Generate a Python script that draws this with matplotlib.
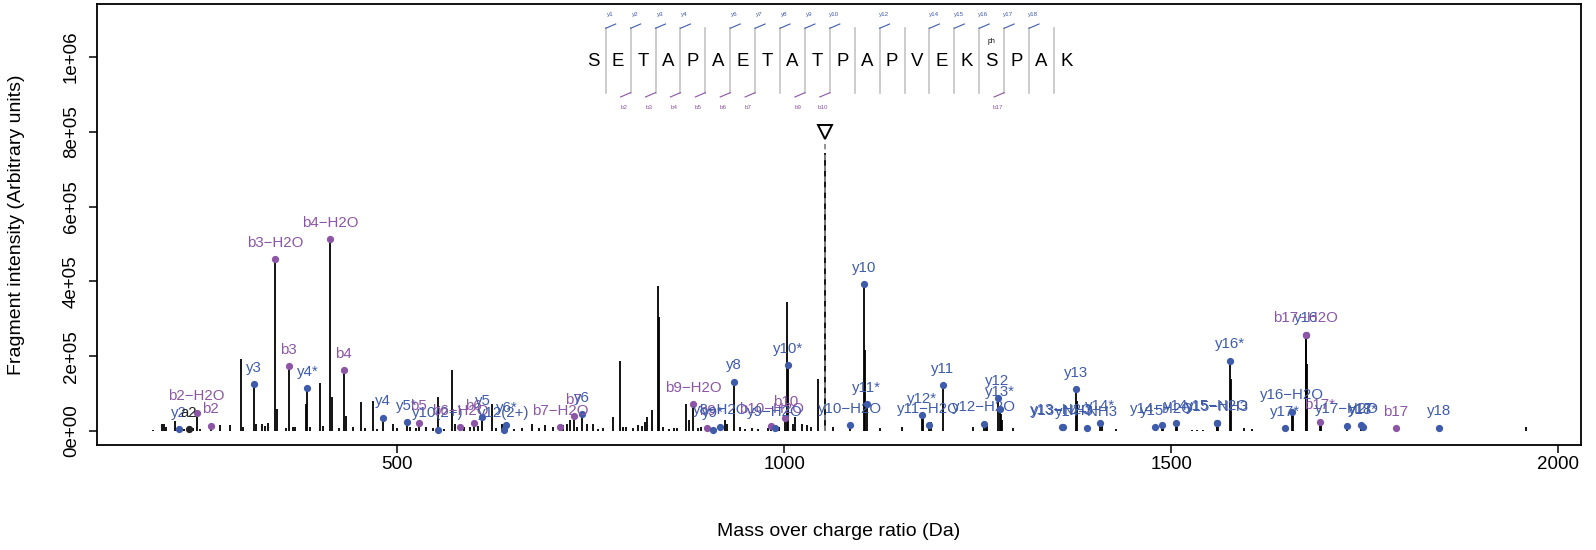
import matplotlib
matplotlib.use('Agg')
import matplotlib.pyplot as plt

plt.rcParams['font.family'] = ['Liberation Sans', 'DejaVu Sans']

# ---------------- data ----------------
# unannotated peaks (m/z, intensity)
other_mz = [185, 196, 199, 202, 213, 225, 237, 245, 271, 284, 298.3, 301, 318, 325, 329, 333,
            344.5, 357, 365, 368, 383, 388, 401, 404, 416, 425, 433.5, 443, 453, 458, 469, 474,
            495, 500, 517, 525, 538, 546, 552.5, 560, 571.5, 575, 587, 594, 605, 622, 628, 635,
            651, 661, 674, 683, 691, 702, 715, 719, 723, 733, 745, 753, 760, 766, 779, 788, 792,
            796, 805, 810.6, 815.8, 820, 823, 828.7, 837, 838.6, 843.8, 851, 858, 862, 873, 877,
            889, 893, 923.5, 926, 943, 950, 958, 966, 979, 993, 1003.9, 1011.7, 1014, 1023, 1029,
            1034.5, 1044, 1063, 1104.6, 1124, 1152, 1180, 1190, 1244, 1261.4, 1262.5, 1280, 1282,
            1296, 1361, 1378, 1392, 1410, 1429, 1481, 1490, 1508, 1527, 1533, 1541, 1561, 1577.5,
            1594, 1605, 1658, 1676, 1693, 1749, 1958]
other_int = [3e3, 18e3, 20e3, 10e3, 28e3, 6e3, 8e3, 6e3, 16e3, 16e3, 193e3, 12e3, 20e3, 20e3, 14e3, 22e3,
             60e3, 7e3, 10e3, 12e3, 72e3, 10e3, 129e3, 14e3, 90e3, 7e3, 40e3, 12e3, 78e3, 8e3, 80e3, 6e3,
             18e3, 8e3, 10e3, 8e3, 12e3, 8e3, 92e3, 6e3, 163e3, 20e3, 10e3, 12e3, 14e3, 72e3, 8e3, 20e3,
             6e3, 8e3, 20e3, 8e3, 16e3, 12e3, 15e3, 20e3, 29e3, 10e3, 20e3, 20e3, 6e3, 8e3, 38e3, 187e3, 10e3,
             11e3, 8e3, 17e3, 13e3, 25e3, 38e3, 56e3, 388e3, 305e3, 11e3, 6e3, 9e3, 9e3, 72e3, 29e3,
             8e3, 12e3, 29e3, 20e3, 11e3, 6e3, 9e3, 6e3, 9e3, 12e3, 346e3, 20e3, 38e3, 20e3, 17e3,
             11e3, 139e3, 11e3, 216e3, 9e3, 11e3, 38e3, 25e3, 12e3, 25e3, 20e3, 45e3, 30e3,
             7e3, 8e3, 80e3, 10e3, 14e3, 5e3, 8e3, 12e3, 14e3, 4e3, 4e3, 4e3, 12e3, 140e3,
             7e3, 5e3, 40e3, 180e3, 20e3, 8e3, 10e3]

# precursor
precursor_mz = 1052.5
precursor_int = 744e3
precursor_mark = 800e3

# annotated fragment ions
ion_labels = ["y2", "a2", "b2-H2O", "b2", "y3", "b3-H2O", "b3", "y4*", "b4-H2O", "b4",
              "y4", "y5*", "b5", "y10(2+)", "b6-H2O", "b6", "y5", "y12(2+)", "y6*", "b7-H2O",
              "b7", "y6", "b9-H2O", "b9", "y9*", "y8-H2O", "y8", "b10-H2O", "y9-H2O", "b10",
              "y10*", "y10-H2O", "y10", "y11*", "y12*", "y11-H2O", "y11", "y12-H2O", "y12", "y13*",
              "y13-H2O", "y13-NH3", "y13", "y14-NH3", "y14*", "y15*", "y14-H2O", "y14", "y15-H2O",
              "y15-NH3", "y16*", "y17*", "y16-H2O", "y16", "b17-H2O", "b17*", "y17-H2O", "y17",
              "y18*", "b17", "y18"]
ion_mz = [218.15, 231.10, 241.08, 259.09, 315.20, 342.13, 360.14, 384.22, 413.17, 431.18,
          482.20, 512.32, 528.23, 552.28, 581.26, 599.27, 610.30, 638.33, 641.36, 710.30,
          728.31, 739.34, 882.39, 900.40, 908.52, 917.45, 935.46, 983.43, 988.49, 1001.44,
          1005.57, 1085.54, 1103.55, 1106.62, 1177.66, 1186.59, 1204.60, 1257.63, 1275.64, 1278.70,
          1358.67, 1359.65, 1376.68, 1390.70, 1407.75, 1478.78, 1487.72, 1505.73, 1558.75,
          1559.73, 1575.84, 1646.87, 1655.81, 1673.82, 1673.80, 1691.81, 1726.84, 1744.85,
          1747.92, 1789.79, 1845.90]
ion_int = [5e3, 5e3, 49e3, 14e3, 125e3, 459e3, 174e3, 114e3, 513e3, 162e3,
           36e3, 23e3, 22e3, 4e3, 10e3, 22e3, 37e3, 4e3, 17e3, 10e3,
           40e3, 45e3, 71e3, 9e3, 4e3, 11e3, 132e3, 14e3, 8e3, 34e3,
           176e3, 16e3, 393e3, 72e3, 43e3, 16e3, 122e3, 20e3, 89e3, 60e3,
           11e3, 10e3, 112e3, 8e3, 22e3, 10e3, 16e3, 22e3, 22e3,
           21e3, 188e3, 7e3, 52e3, 258e3, 258e3, 25e3, 14e3, 16e3,
           11e3, 7e3, 9e3]
ion_type = [l[0] for l in ion_labels]

sequence = list("SETAPAETATPAPVEKSPAK")
modification = {16: "ph"}
y_sites = [1, 2, 3, 4, 6, 7, 8, 9, 10, 12, 14, 15, 16, 17, 18]
b_sites = [2, 3, 4, 5, 6, 7, 9, 10, 17]

x_ticks = [500, 1000, 1500, 2000]
y_ticks = [0, 2e5, 4e5, 6e5, 8e5, 1e6]
y_tick_labels = ["0e+00", "2e+05", "4e+05", "6e+05", "8e+05", "1e+06"]

BLUE = "#3f5cab"
PURPLE = "#8c55a6"
colors = {"y": BLUE, "b": PURPLE, "a": "#222222"}

# ---------------- figure ----------------
W, H = 1596, 550
fig = plt.figure(figsize=(W / 100, H / 100), dpi=100)
L, R, T, B = 96.7, 1580.7, 4.1, 444.8
ax = fig.add_axes([L / W, 1 - B / H, (R - L) / W, (B - T) / H])
ax.set_xlim(112, 2029)
ax.set_ylim(-36900, 1141400)

all_mz = other_mz + ion_mz + [precursor_mz]
all_int = other_int + ion_int + [precursor_int]
ax.vlines(all_mz, 0, all_int, color="black", lw=1.3, zorder=2)

# precursor marker
ax.vlines([precursor_mz], 0, [precursor_mark - 20e3], color="#8a8a8a", lw=1.3,
          linestyles=(0, (3, 3)), zorder=3)
ax.plot([precursor_mz], [precursor_mark], marker="v", ms=10, mfc="white", mec="black",
        mew=1.4, zorder=4)

# ion markers + labels
for lab, mz, it, t in zip(ion_labels, ion_mz, ion_int, ion_type):
    ax.plot([mz], [it], "o", ms=4.2, color=colors[t], zorder=5)
for lab, mz, it, t in zip(ion_labels, ion_mz, ion_int, ion_type):
    ax.annotate(lab.replace("-", "\u2212"), (mz, it), xytext=(0, 11.8),
                textcoords="offset points", ha="center", va="center",
                fontsize=10.8, color=colors[t], zorder=6)

# sequence annotation (axes fraction)
x0, dx = 0.3346, 0.01678
y_letter = 0.869
div_top, div_bot = 0.9451, 0.799
hx, hy = 10 / (R - L), 4.3 / (B - T)
for i, aa in enumerate(sequence):
    ax.text(x0 + i * dx, y_letter, aa, transform=ax.transAxes, ha="center", va="center",
            fontsize=13.4, color="black")
    if i in modification:
        ax.text(x0 + i * dx, 0.9145, modification[i], transform=ax.transAxes, ha="center",
                va="center", fontsize=5, color="black")
for k in range(1, len(sequence)):
    xd = x0 + (k - 0.5) * dx
    ax.plot([xd, xd], [div_bot, div_top], transform=ax.transAxes, color="#c4c4c4", lw=1.2)
    if k in y_sites:
        ax.plot([xd, xd + hx], [div_top, div_top + hy], transform=ax.transAxes, color=BLUE, lw=0.8)
        ax.text(xd + 4.3 / (R - L), 0.9775, "y%d" % k, transform=ax.transAxes, ha="center",
                va="center", fontsize=4.5, color=BLUE)
    if k in b_sites:
        ax.plot([xd, xd - hx], [div_bot, div_bot - hy], transform=ax.transAxes, color=PURPLE, lw=0.8)
        ax.text(xd - 6.7 / (R - L), 0.7658, "b%d" % k, transform=ax.transAxes, ha="center",
                va="center", fontsize=4.5, color=PURPLE)

# axes styling (R-like)
for s in ax.spines.values():
    s.set_linewidth(1.3)
ax.set_xticks(x_ticks)
ax.set_xticklabels([str(v) for v in x_ticks])
ax.set_yticks(y_ticks)
ax.set_yticklabels(y_tick_labels, rotation=90, va="center")
ax.tick_params(axis="both", direction="out", length=6, width=1.1, labelsize=13.5)
ax.tick_params(axis="x", pad=2)
ax.tick_params(axis="y", pad=6)

fig.text((L + R) / 2 / W, 1 - 532 / H, "Mass over charge ratio (Da)", ha="center",
         va="center", fontsize=14)
fig.text(16.3 / W, 1 - (T + B) / 2 / H, "Fragment intensity (Arbitrary units)", ha="center",
         va="center", rotation=90, fontsize=14)

fig.savefig("out.png", dpi=100)
